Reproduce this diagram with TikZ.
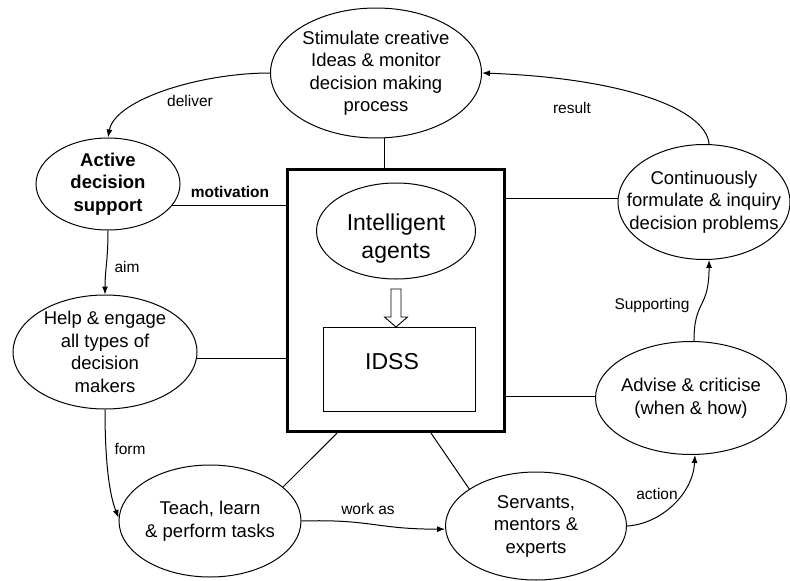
\documentclass[tikz,border=0pt]{standalone}
\usepackage{fontspec}
\setmainfont{Liberation Sans}
\usetikzlibrary{shapes.geometric,arrows.meta}
\begin{document}
\begin{tikzpicture}[x=1pt,y=-1pt,
  bubble/.style={ellipse,draw,line width=1pt,inner sep=-30pt,align=center,
    font=\fontsize{18.5}{22.5}\selectfont},
  lab/.style={font=\fontsize{15.5}{18}\selectfont,inner sep=0pt},
  link/.style={line width=1pt},
  flow/.style={line width=1pt,-{Latex[length=8pt,width=6pt]}},
]
\useasboundingbox (0,0) rectangle (790,581);

% outer activities
\node[bubble,minimum width=211,minimum height=130] (top) at (376,73)
  {Stimulate creative\\Ideas \& monitor\\decision making\\process};
\node[bubble,minimum width=144,minimum height=92,
  font=\fontsize{18.5}{22.5}\selectfont\bfseries] (act) at (108,184)
  {Active\\decision\\support};
\node[bubble,minimum width=184,minimum height=114] (help) at (105,352)
  {Help \& engage\\all types of\\decision\\makers};
\node[bubble,minimum width=182,minimum height=112] (teach) at (210,521)
  {Teach, learn\\\& perform tasks};
\node[bubble,minimum width=181,minimum height=108] (serv) at (536,526)
  {Servants,\\mentors \&\\experts};
\node[bubble,minimum width=191,minimum height=113] (adv) at (691,398)
  {Advise \& criticise\\(when \& how)};
\node[bubble,minimum width=172,minimum height=115] (cont) at (704,202)
  {Continuously\\formulate \& inquiry\\decision problems};

% central system
\node[draw,line width=3.2pt,minimum width=217,minimum height=262,inner sep=0] (box) at (396,300.5) {};
\node[bubble,minimum width=159,minimum height=96,text height=59pt,
  font=\fontsize{23}{28}\selectfont] (agents) at (396,231) {Intelligent\\agents};
\node[draw,line width=1pt,minimum width=152,minimum height=84,inner sep=0] (idss) at (399,369) {};
\node[font=\fontsize{23}{28}\selectfont,inner sep=0] (idsstxt) at (392,362) {IDSS};
\draw[line width=0.9pt,fill=white]
  (391,289) -- (401,289) -- (401,317) -- (407.5,317) -- (396,327)
  -- (384.5,317) -- (391,317) -- cycle;

% plain links to the central system
\draw[link] (act.-19) -- (act.-19 -| box.west);
\draw[link] (help.-4) -- (help.-4 -| box.west);
\draw[link] (cont.178) -- (cont.178 -| box.east);
\draw[link] (adv.179) -- (adv.179 -| box.east);
\draw[link] (top.-83) -- (top.-83 |- box.north);
\draw[link] (teach.25) -- ([xshift=-59pt]box.south);
\draw[link] (serv.151) -- ([xshift=35pt]box.south);

% cycle of flows
\draw[flow] (top.west) .. controls +(-70,0) and +(7,-38) .. (act.north);
\draw[flow] (act.south) .. controls +(0,30) and +(0,-25) .. (help.north);
\draw[flow] (help.south) .. controls +(0,60) and +(-8,-20) .. (teach.178);
\draw[flow] (teach.east) .. controls +(70,-2) and +(-70,0) .. (serv.182);
\draw[flow] (serv.east) .. controls +(34,-2) and +(-2,39) .. (adv.-86);
\draw[flow] (adv.87) .. controls +(0,-42) and +(0,50) .. (cont.-85);
\draw[flow] (cont.85) .. controls +(-3,-36) and +(139,5) .. (top.east);

% labels
\node[lab] (ldeliver) at (190,101) {deliver};
\node[lab,font=\fontsize{15.5}{18}\selectfont\bfseries] (lmotiv) at (230,192) {motivation};
\node[lab] (laim) at (127,267) {aim};
\node[lab] (lform) at (130,449) {form};
\node[lab] (lwork) at (368,509) {work as};
\node[lab] (laction) at (657,494) {action};
\node[lab] (lsupp) at (652,305) {Supporting};
\node[lab] (lresult) at (572,108) {result};
\end{tikzpicture}
\end{document}
